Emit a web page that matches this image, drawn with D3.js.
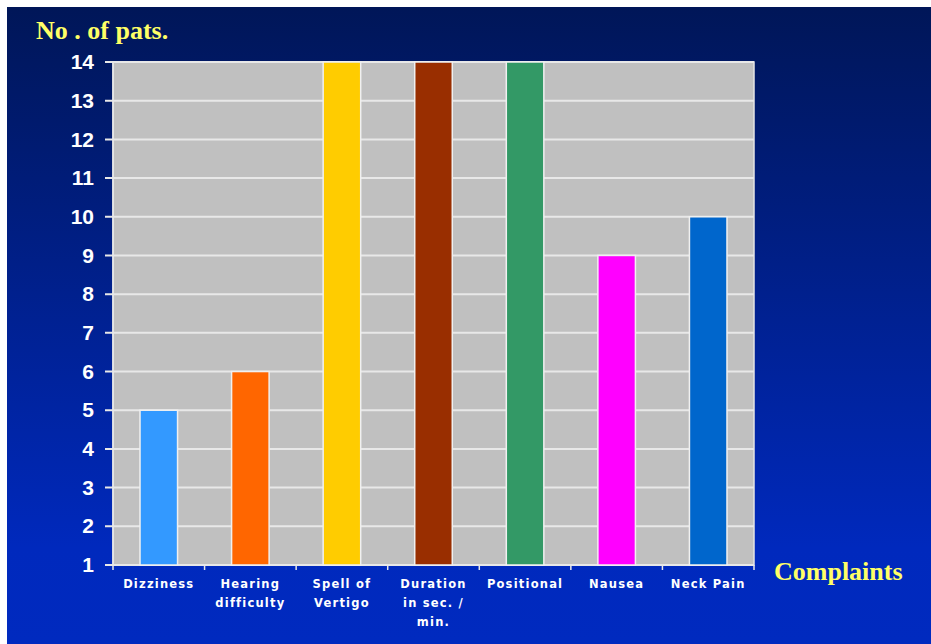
<!DOCTYPE html>
<html lang="en">
  <head>
    <meta charset='utf-8'>
    <script src='https://d3js.org/d3.v7.min.js'></script>
    <title>Complaints chart</title>
    <style>
      body { margin: 0px; background: #fff; }
      .ylab { fill: #ffffff; font-size: 21px; font-weight: bold; font-family: 'Liberation Sans', Arial, sans-serif; }
      .xlab { fill: #ffffff; font-size: 11.5px; font-weight: bold; font-family: 'DejaVu Sans', sans-serif; letter-spacing: 1.2px; }
      .title { fill: #ffff66; font-size: 26px; font-weight: bold; font-family: 'Liberation Serif', 'DejaVu Serif', serif; }
    </style>
  </head>
  <body>
    <div id='viz'></div>
    <script>
      // data
      const categories = [
        ['Dizziness'],
        ['Hearing', 'difficulty'],
        ['Spell of', 'Vertigo'],
        ['Duration', 'in sec. /', 'min.'],
        ['Positional'],
        ['Nausea'],
        ['Neck Pain']
      ];
      const values = [5, 6, 14, 14, 14, 9, 10];
      const barColors = ['#3399ff', '#ff6600', '#ffcc00', '#992e00', '#339966', '#ff00ff', '#0066cc'];
      const yTicks = d3.range(1, 15);

      const width = 931, height = 644;
      const margin = { left: 113, right: 177, top: 62, bottom: 79 };
      const innerWidth = width - margin.left - margin.right;
      const innerHeight = height - margin.top - margin.bottom;

      const svg = d3.select('#viz').append('svg')
        .attr('width', width)
        .attr('height', height);

      // gradient background
      const grad = svg.append('defs').append('linearGradient')
        .attr('id', 'bg').attr('x1', 0).attr('y1', 0).attr('x2', 0).attr('y2', 1);
      grad.append('stop').attr('offset', '0%').attr('stop-color', '#001658');
      grad.append('stop').attr('offset', '85%').attr('stop-color', '#0029bd');
      grad.append('stop').attr('offset', '100%').attr('stop-color', '#002abf');

      svg.append('rect')
        .attr('x', 7).attr('y', 7)
        .attr('width', width - 7).attr('height', height - 7)
        .attr('fill', 'url(#bg)');

      const xScale = d3.scaleBand()
        .domain(d3.range(categories.length))
        .range([0, innerWidth])
        .paddingInner(0.59)
        .paddingOuter(0.295);

      const yScale = d3.scaleLinear()
        .domain([1, 14])
        .range([innerHeight, 0]);

      const g = svg.append('g')
        .attr('transform', `translate(${margin.left},${margin.top})`);

      // plot area
      g.append('rect')
        .attr('width', innerWidth)
        .attr('height', innerHeight)
        .attr('fill', '#c0c0c0')
        .attr('stroke', '#e4e4e4')
        .attr('stroke-width', 1.5);

      // grid lines + tick stubs
      g.append('g').selectAll('line').data(yTicks).enter().append('line')
        .attr('x1', -8)
        .attr('x2', innerWidth)
        .attr('y1', d => yScale(d))
        .attr('y2', d => yScale(d))
        .attr('stroke', '#e8e8e8')
        .attr('stroke-width', 2);

      // y labels
      g.append('g').selectAll('text').data(yTicks).enter().append('text')
        .attr('class', 'ylab')
        .attr('text-anchor', 'end')
        .attr('x', -19)
        .attr('y', d => yScale(d))
        .attr('dy', '0.34em')
        .text(d3.format('d'));

      // left axis line
      g.append('line')
        .attr('x1', 0).attr('x2', 0)
        .attr('y1', 0).attr('y2', innerHeight)
        .attr('stroke', '#e8e8e8').attr('stroke-width', 1.5);

      // x tick marks at category boundaries
      const step = xScale.step();
      g.append('g').selectAll('line').data(d3.range(categories.length + 1)).enter().append('line')
        .attr('x1', d => d * step)
        .attr('x2', d => d * step)
        .attr('y1', innerHeight)
        .attr('y2', innerHeight + 5)
        .attr('stroke', '#e8e8e8')
        .attr('stroke-width', 1.5);

      // bars
      g.selectAll('.bar').data(values).enter().append('rect')
        .attr('class', 'bar')
        .attr('x', (d, i) => xScale(i))
        .attr('y', d => yScale(d))
        .attr('width', xScale.bandwidth())
        .attr('height', d => innerHeight - yScale(d))
        .attr('fill', (d, i) => barColors[i])
        .attr('stroke', '#f0f0f0')
        .attr('stroke-width', 1.5);

      // category labels
      const labG = g.append('g');
      categories.forEach((lines, i) => {
        const t = labG.append('text')
          .attr('class', 'xlab')
          .attr('text-anchor', 'middle')
          .attr('x', xScale(i) + xScale.bandwidth() / 2)
          .attr('y', innerHeight + 23);
        lines.forEach((s, j) => {
          t.append('tspan')
            .attr('x', xScale(i) + xScale.bandwidth() / 2)
            .attr('dy', j === 0 ? 0 : 19)
            .text(s);
        });
      });

      // titles
      svg.append('text').attr('class', 'title')
        .attr('x', 36).attr('y', 39)
        .text('No . of pats.');

      svg.append('text').attr('class', 'title')
        .attr('x', 774).attr('y', 580)
        .text('Complaints');
    </script>
  </body>
</html>
